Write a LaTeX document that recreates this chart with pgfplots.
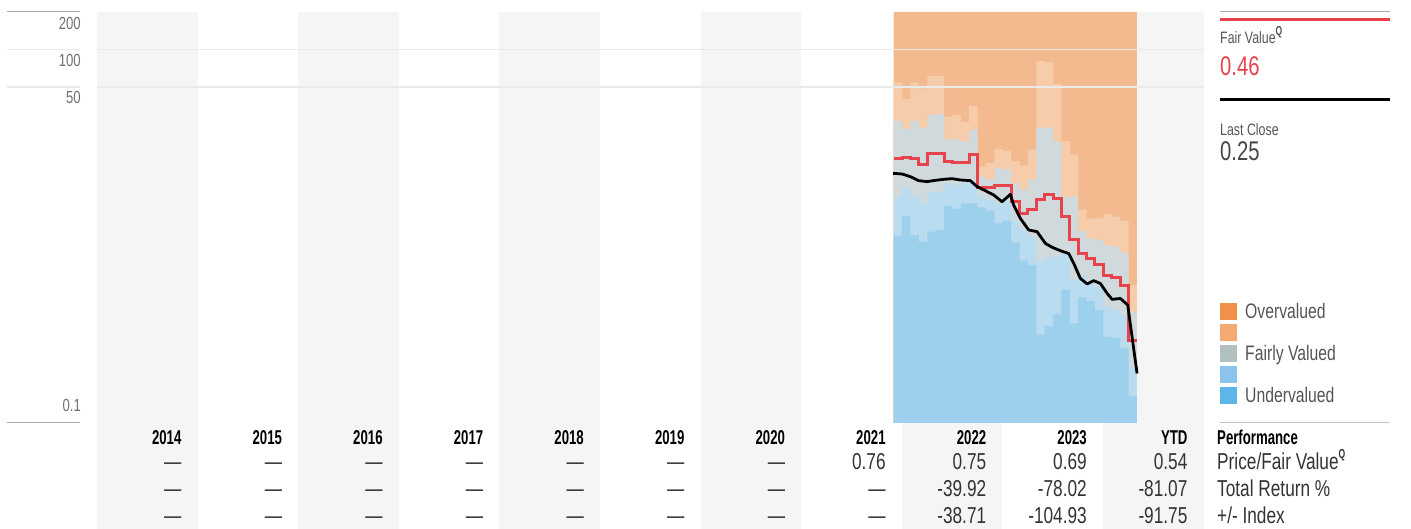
\documentclass[border=0pt]{standalone}
\usepackage{pgfplots}
\pgfplotsset{compat=1.18}
\usepackage{pgfplotstable}
\usepackage{fontspec}
\setmainfont{Liberation Sans}[FakeStretch=0.75, BoldFeatures={FakeStretch=0.66}]

\definecolor{colshade}{HTML}{F5F5F5}
\definecolor{ovA}{HTML}{F4BA8F}
\definecolor{ovB}{HTML}{F6CCAA}
\definecolor{fair}{HTML}{D0DADC}
\definecolor{unB}{HTML}{B9DCF1}
\definecolor{unA}{HTML}{9DD0EC}
\definecolor{legOvA}{HTML}{F2904A}
\definecolor{legOvB}{HTML}{F4A972}
\definecolor{legFair}{HTML}{B1C1C1}
\definecolor{legUnB}{HTML}{8AC4EC}
\definecolor{legUnA}{HTML}{5DB5E8}
\definecolor{fvred}{HTML}{E8424C}
\definecolor{gridc}{HTML}{EAEAEA}
\definecolor{darkline}{HTML}{AAAAAA}
\definecolor{ticktext}{HTML}{707070}
\definecolor{bodytext}{HTML}{333333}
\definecolor{labtext}{HTML}{555555}

% valuation bands: first and last rows close the areas at the axis floor
\pgfplotstableread{
x Top B4 B3 B2 B1
2021.9167 0.1 0.1 0.1 0.1 0.1
2021.9167 200 54.1 26.6 6.49 3.20
2022.0000 200 40.0 22.97 7.81 4.60
2022.0833 200 54.1 26.6 6.57 3.23
2022.1667 200 48.7 23.6 5.81 2.86
2022.2500 200 61.2 29.8 7.08 3.44
2022.3333 200 61.2 30.3 7.21 3.55
2022.4167 200 28.9 19.1 8.41 5.53
2022.5000 200 29.8 18.97 8.11 5.26
2022.5833 200 26.2 18.2 8.51 5.81
2022.6667 200 35.2 22.6 8.68 5.81
2022.7500 200 11.45 9.52 6.45 5.40
2022.8333 200 12.2 9.06 6.18 5.07
2022.9167 200 15.9 11.1 5.74 4.01
2023.0000 200 15.3 10.9 5.99 4.22
2023.0833 200 12.7 8.41 4.14 2.82
2023.1667 200 11.7 7.53 3.55 2.01
2023.2500 200 15.6 9.06 3.14 1.86
2023.3333 200 80.8 23.6 1.98 0.515
2023.4167 200 79.3 23.6 2.14 0.601
2023.5000 200 52.8 18.2 2.17 0.746
2023.5833 200 18.4 6.57 2.30 1.17
2023.6667 200 14.4 6.57 1.41 0.631
2023.7500 200 5.14 3.48 1.54 1.02
2023.8333 200 4.40 3.04 1.36 0.954
2023.9167 200 4.40 2.95 1.24 0.808
2024.0000 200 4.74 2.69 0.860 0.493
2024.0833 200 4.54 2.61 0.808 0.484
2024.1667 200 4.22 2.35 0.737 0.398
2024.2500 200 1.28 0.783 0.278 0.165
2024.3333 200 1.28 0.783 0.278 0.165
2024.3333 0.1 0.1 0.1 0.1 0.1
}\bands

\pgfplotstableread{
x fv
2021.9167 13.2
2022.0000 13.6
2022.0833 13.36
2022.1667 11.81
2022.2500 14.65
2022.3333 14.65
2022.4167 12.56
2022.5000 12.40
2022.5833 12.33
2022.6667 14.38
2022.7500 7.76
2022.8333 7.81
2022.9167 8.01
2023.0000 8.01
2023.0833 5.99
2023.1667 4.83
2023.2500 5.20
2023.3333 6.26
2023.4167 6.86
2023.5000 6.37
2023.5833 4.54
2023.6667 2.99
2023.7500 2.28
2023.8333 2.10
2023.9167 1.89
2024.0000 1.54
2024.0833 1.48
2024.1667 1.28
2024.2500 0.46
2024.3333 0.46
}\fairvalue

\pgfplotstableread{
x price
2021.910 10.12
2021.999 10.00
2022.082 9.52
2022.164 8.84
2022.248 8.68
2022.330 8.89
2022.413 9.06
2022.496 9.17
2022.579 8.95
2022.678 8.84
2022.745 7.91
2022.827 7.34
2022.910 6.78
2022.993 5.99
2023.076 6.86
2023.108 5.63
2023.175 4.40
2023.258 3.55
2023.341 3.44
2023.424 2.77
2023.490 2.58
2023.573 2.42
2023.655 2.30
2023.705 1.92
2023.771 1.45
2023.838 1.31
2023.904 1.39
2023.970 1.32
2024.037 1.10
2024.087 0.984
2024.169 1.00
2024.242 0.886
2024.285 0.493
2024.335 0.25
}\price

\begin{document}
\begin{tikzpicture}[x=1pt,y=1pt]
\path[use as bounding box] (0,0) rectangle (1411,529);

% alternating year columns
\foreach \k in {0,2,4,6,8,10} {
  \fill[colshade] ({97+100.6*\k},0) rectangle ({97+100.6*(\k+1)},517);
}

% left scale lines
\draw[darkline, line width=1pt] (7,517) -- (80,517);
\draw[gridc, line width=1.2pt] (7,479.5) -- (80,479.5);
\draw[gridc, line width=1.2pt] (7,442) -- (80,442);
\draw[darkline, line width=1pt] (7,106) -- (80,106);

\begin{axis}[
  at={(97pt,106pt)}, anchor=south west,
  scale only axis, width=1107pt, height=411pt,
  xmin=2014, xmax=2025,
  ymode=log, ymin=0.1, ymax=200,
  axis line style={draw=none},
  xtick=\empty, ytick={50,100}, yticklabels={},
  major tick length=0pt,
  ymajorgrids, grid style={gridc, line width=1.2pt},
  axis on top,
]
\addplot[const plot, fill=ovA, draw=none] table[x=x, y=Top] {\bands};
\addplot[const plot, fill=ovB, draw=none] table[x=x, y=B4] {\bands};
\addplot[const plot, fill=fair, draw=none] table[x=x, y=B3] {\bands};
\addplot[const plot, fill=unB, draw=none] table[x=x, y=B2] {\bands};
\addplot[const plot, fill=unA, draw=none] table[x=x, y=B1] {\bands};
\addplot[const plot, fvred, line width=3pt] table[x=x, y=fv] {\fairvalue};
\addplot[black, line width=2.8pt, line join=round] table[x=x, y=price] {\price};
\end{axis}

% y scale labels
\begin{scope}[every node/.style={anchor=base east, inner sep=0pt, text=ticktext, font=\fontsize{17.5}{20}\selectfont}]
\node at (81,499.7) {200};
\node at (81,462.3) {100};
\node at (81,425) {50};
\node at (81,117.3) {0.1};
\end{scope}

% right panel: fair value / last close
\draw[darkline, line width=1pt] (1220,517) -- (1390,517);
\draw[fvred, line width=3pt] (1220,509) -- (1390,509);
\node[anchor=base west, inner sep=0pt, text=labtext, font=\fontsize{16.5}{19}\selectfont] at (1220,485)
  {Fair Value\raisebox{0.5em}{\fontsize{13}{13}\selectfont\bfseries Q}};
\node[anchor=base west, inner sep=0pt, text=fvred, font=\fontsize{27}{30}\selectfont] at (1220,453) {0.46};
\draw[black, line width=3pt] (1220,429) -- (1390,429);
\node[anchor=base west, inner sep=0pt, text=labtext, font=\fontsize{16.5}{19}\selectfont] at (1220,393) {Last Close};
\node[anchor=base west, inner sep=0pt, text=bodytext!90, font=\fontsize{27}{30}\selectfont] at (1220,368) {0.25};

% legend
\fill[legOvA]  (1220,209) rectangle (1236.7,225.7);
\fill[legOvB]  (1220,188) rectangle (1236.7,204.7);
\fill[legFair] (1220,167) rectangle (1236.7,183.7);
\fill[legUnB]  (1220,146) rectangle (1236.7,162.7);
\fill[legUnA]  (1220,125) rectangle (1236.7,141.7);
\begin{scope}[every node/.style={anchor=base west, inner sep=0pt, text=labtext, font=\fontsize{21}{24}\selectfont}]
\node at (1245,210) {Overvalued};
\node at (1245,168) {Fairly Valued};
\node at (1245,126) {Undervalued};
\end{scope}

% performance table
\draw[darkline!70, line width=1pt] (1220,106) -- (1390,106);
\begin{scope}[every node/.style={anchor=base east, inner sep=0pt}]
\foreach \x/\t in {181.6/2014, 282.2/2015, 382.8/2016, 483.4/2017, 584/2018, 684.6/2019, 785.2/2020, 885.8/2021, 986.4/2022, 1087/2023, 1187.6/YTD} {
  \node[text=black, font=\fontsize{20}{24}\selectfont\bfseries] at (\x,84) {\t};
}
\foreach \x/\t in {181.6/—, 282.2/—, 382.8/—, 483.4/—, 584/—, 684.6/—, 785.2/—, 885.8/0.76, 986.4/0.75, 1087/0.69, 1187.6/0.54} {
  \node[text=bodytext, font=\fontsize{23}{27}\selectfont] at (\x,59) {\t};
}
\foreach \x/\t in {181.6/—, 282.2/—, 382.8/—, 483.4/—, 584/—, 684.6/—, 785.2/—, 885.8/—, 986.4/-39.92, 1087/-78.02, 1187.6/-81.07} {
  \node[text=bodytext, font=\fontsize{23}{27}\selectfont] at (\x,32) {\t};
}
\foreach \x/\t in {181.6/—, 282.2/—, 382.8/—, 483.4/—, 584/—, 684.6/—, 785.2/—, 885.8/—, 986.4/-38.71, 1087/-104.93, 1187.6/-91.75} {
  \node[text=bodytext, font=\fontsize{23}{27}\selectfont] at (\x,5) {\t};
}
\end{scope}
\begin{scope}[every node/.style={anchor=base west, inner sep=0pt}]
\node[text=black, font=\fontsize{20}{24}\selectfont\bfseries] at (1217,84) {Performance};
\node[text=bodytext, font=\fontsize{23}{27}\selectfont] at (1217,59)
  {Price/Fair Value\raisebox{0.5em}{\fontsize{13}{13}\selectfont\bfseries Q}};
\node[text=bodytext, font=\fontsize{23}{27}\selectfont] at (1217,32) {Total Return \%};
\node[text=bodytext, font=\fontsize{23}{27}\selectfont] at (1217,5) {+/- Index};
\end{scope}
\end{tikzpicture}
\end{document}
